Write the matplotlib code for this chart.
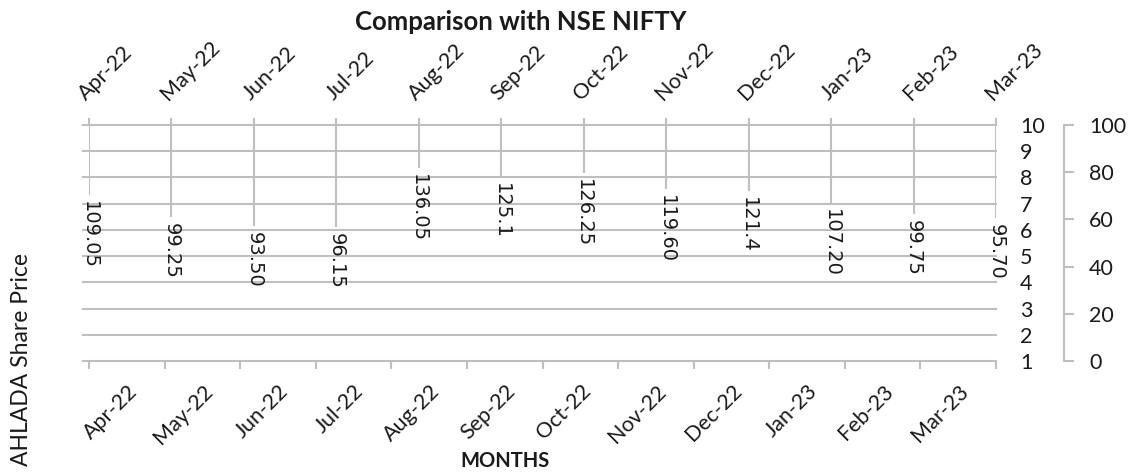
import matplotlib
matplotlib.use("Agg")
import matplotlib.pyplot as plt
import numpy as np

months = ["Apr-22", "May-22", "Jun-22", "Jul-22", "Aug-22", "Sep-22",
          "Oct-22", "Nov-22", "Dec-22", "Jan-23", "Feb-23", "Mar-23"]
price_labels = ["109.05", "99.25", "93.50", "96.15", "136.05", "125.1",
                "126.25", "119.60", "121.4", "107.20", "99.75", "95.70"]
# bottom end of each drop line, read on the 1-10 axis
line_end = [7.33, 6.50, 6.16, 6.10, 8.35, 8.03, 8.16, 7.55, 7.48, 7.04, 6.59, 6.46]
left_ticks = list(range(1, 11))
right_ticks = [0, 20, 40, 60, 80, 100]

FONT = "Lato"
GRID = "#bfbfbf"
TXT = "#1a1a1a"
PT = 0.72  # points per pixel at dpi 100

W, H = 1130, 472
fig = plt.figure(figsize=(W / 100, H / 100), dpi=100)
x0, x1, ytop, ybot = 89, 996, 125, 361
ax = fig.add_axes([x0 / W, (H - ybot) / H, (x1 - x0) / W, (ybot - ytop) / H])

n = len(months)
ax.set_xlim(0, n)
ax.set_ylim(1, 10)
for s in ax.spines.values():
    s.set_visible(False)
for v in left_ticks:
    ax.axhline(v, color=GRID, lw=1.5, zorder=0, xmin=-6 / (x1 - x0), clip_on=False)

ax.set_xticks(np.arange(0, n + 1))
ax.set_xticklabels([])
ax.set_xticks(np.arange(n) + 0.5, minor=True)
ax.set_xticklabels(months, minor=True, rotation=45, ha="right", va="top",
                   rotation_mode="anchor", fontsize=15.5, family=FONT, color=TXT)
ax.tick_params(axis="x", which="major", length=8 * PT, width=1.5, color=GRID, direction="out")
ax.tick_params(axis="x", which="minor", length=0, pad=20 * PT)

# top axis
axt = ax.twiny()
axt.set_xlim(0, n - 1)
for s in axt.spines.values():
    s.set_visible(False)
axt.set_xticks(np.arange(n))
axt.set_xticklabels(months, rotation=45, ha="left", va="bottom", rotation_mode="anchor",
                    fontsize=15.5, family=FONT, color=TXT)
axt.tick_params(axis="x", length=7 * PT, width=1.5, color=GRID, direction="out", pad=14 * PT)
xs = np.arange(n)
axt.vlines(xs, line_end, 10, color=GRID, lw=1.5, zorder=1)
for xi, ye, lab in zip(xs, line_end, price_labels):
    axt.annotate(lab, (xi, ye), xytext=(0, -6 * PT), textcoords="offset points",
                 rotation=270, ha="center", va="top", fontsize=14,
                 family="DejaVu Sans", color=TXT)

# secondary right axis 0-100
ax2 = ax.twinx()
ax2.set_ylim(0, 100)
for s in ax2.spines.values():
    s.set_visible(False)
ax2.spines["right"].set_visible(True)
ax2.spines["right"].set_position(("outward", (1064 - x1) * PT))
ax2.spines["right"].set_color(GRID)
ax2.spines["right"].set_linewidth(1.5)
ax2.set_yticks(right_ticks)
ax2.set_yticklabels([str(v) for v in right_ticks], fontsize=15.5, family=FONT, color=TXT)
ax2.tick_params(axis="y", length=10 * PT, width=1.5, color=GRID, pad=15 * PT)

# primary 1-10 labels on the right (after twinx, which resets tick side)
ax.yaxis.tick_right()
ax.set_yticks(left_ticks)
ax.set_yticklabels([str(v) for v in left_ticks], fontsize=15.5, family=FONT, color=TXT)
ax.tick_params(axis="y", length=0, pad=24 * PT)

fig.text(521 / W, 1 - 22 / H, "Comparison with NSE NIFTY", ha="center", va="center",
         fontsize=18.5, fontweight="bold", family=FONT, color=TXT)
fig.text(505 / W, 1 - 461 / H, "MONTHS", ha="center", va="center",
         fontsize=14.5, fontweight="bold", family=FONT, color=TXT)
fig.text(22 / W, 1 - 359 / H, "AHLADA Share Price", ha="center", va="center",
         rotation=90, fontsize=16.5, family=FONT, color=TXT)

fig.savefig("out.png", dpi=100)
